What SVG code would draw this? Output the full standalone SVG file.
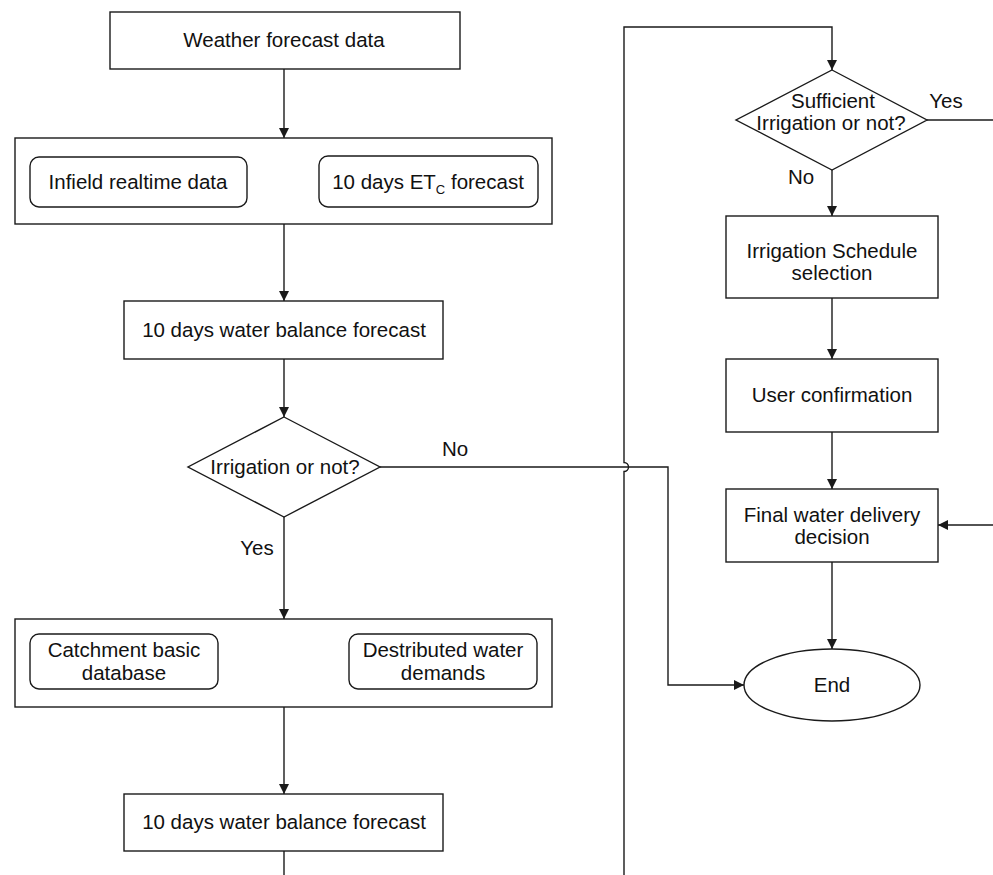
<svg xmlns="http://www.w3.org/2000/svg" width="993" height="875" viewBox="0 0 993 875">
<defs>
<marker id="arr" viewBox="0 0 10 10" refX="10" refY="5" markerWidth="10" markerHeight="10" markerUnits="userSpaceOnUse" orient="auto">
<path d="M0,0 L10,5 L0,10 Z" fill="#1a1a1a"/>
</marker>
<style>
.b{fill:#fff;stroke:#1a1a1a;stroke-width:1.4}
.c{fill:none;stroke:#1a1a1a;stroke-width:1.4}
text{font-family:"Liberation Sans",Arial,sans-serif;font-size:20.5px;fill:#111;text-anchor:middle}
</style>
</defs>
<rect width="993" height="875" fill="#fff"/>
<g id="connectors">
<path class="c" d="M284,69 V138" marker-end="url(#arr)"/>
<path class="c" d="M284,224 V301" marker-end="url(#arr)"/>
<path class="c" d="M284,359 V417" marker-end="url(#arr)"/>
<path class="c" d="M284,517 V619" marker-end="url(#arr)"/>
<path class="c" d="M284,707 V794" marker-end="url(#arr)"/>
<path class="c" d="M284,851 V875"/>
<path class="c" d="M624,875 V471.5 A4.5,4.5 0 0 0 624,462.5 V27 H832 V70" marker-end="url(#arr)"/>
<path class="c" d="M380,467 H668 V685 H744" marker-end="url(#arr)"/>
<path class="c" d="M927,120 H993"/>
<path class="c" d="M832,170 V216" marker-end="url(#arr)"/>
<path class="c" d="M832,298 V359" marker-end="url(#arr)"/>
<path class="c" d="M832,432 V489" marker-end="url(#arr)"/>
<path class="c" d="M993,525 H938" marker-end="url(#arr)"/>
<path class="c" d="M832,562 V649" marker-end="url(#arr)"/>
<text x="455" y="456">No</text>
<text x="257" y="555">Yes</text>
<text x="946" y="108">Yes</text>
<text x="801" y="184">No</text>
</g>
<g id="weather">
<rect class="b" x="110" y="12" width="350" height="57"/>
<text x="284" y="47">Weather forecast data</text>
</g>
<g id="inputs1">
<rect class="b" x="15" y="138" width="537" height="86"/>
<rect class="b" x="30" y="157" width="217" height="50" rx="9"/>
<text x="138" y="189">Infield realtime data</text>
<rect class="b" x="319" y="156" width="219" height="51" rx="9"/>
<text x="428" y="189">10 days ET<tspan font-size="13" dy="5">C</tspan><tspan dy="-5"> forecast</tspan></text>
</g>
<g id="wb1">
<rect class="b" x="124" y="301" width="319" height="58"/>
<text x="284" y="337">10 days water balance forecast</text>
</g>
<g id="decision1">
<polygon class="b" points="284,417 380,467 284,517 188,467"/>
<text x="285" y="474">Irrigation or not?</text>
</g>
<g id="inputs2">
<rect class="b" x="15" y="619" width="537" height="88"/>
<rect class="b" x="30" y="634" width="188" height="55" rx="9"/>
<text x="124" y="657">Catchment basic</text>
<text x="124" y="680">database</text>
<rect class="b" x="349" y="634" width="188" height="55" rx="9"/>
<text x="443" y="657">Destributed water</text>
<text x="443" y="680">demands</text>
</g>
<g id="wb2">
<rect class="b" x="124" y="794" width="319" height="57"/>
<text x="284" y="829">10 days water balance forecast</text>
</g>
<g id="decision2">
<polygon class="b" points="832,70 927,120 832,170 736,120"/>
<text x="833" y="108">Sufficient</text>
<text x="831" y="130">Irrigation or not?</text>
</g>
<g id="schedule">
<rect class="b" x="726" y="216" width="212" height="82"/>
<text x="832" y="258">Irrigation Schedule</text>
<text x="832" y="280">selection</text>
</g>
<g id="confirm">
<rect class="b" x="726" y="359" width="212" height="73"/>
<text x="832" y="402">User confirmation</text>
</g>
<g id="final">
<rect class="b" x="726" y="489" width="212" height="73"/>
<text x="832" y="522">Final water delivery</text>
<text x="832" y="544">decision</text>
</g>
<g id="end">
<ellipse class="b" cx="832" cy="685" rx="88" ry="36"/>
<text x="832" y="692">End</text>
</g>
</svg>
